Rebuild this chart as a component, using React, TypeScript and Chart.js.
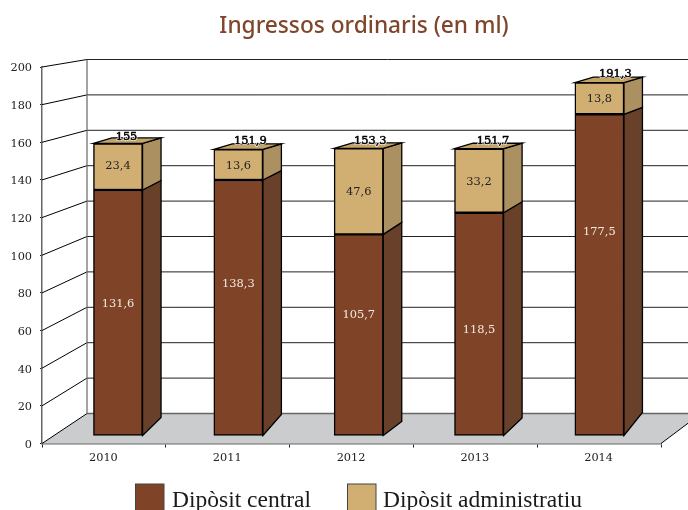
import React, { useEffect, useRef } from "react";
import { Chart, registerables } from "chart.js";

Chart.register(...registerables);

const years = ["2010", "2011", "2012", "2013", "2014"];
// Segment heights as they are drawn in the picture
const central = [130.7, 136, 107.1, 118.6, 170.9];
const administratiu = [24.7, 16.3, 45.7, 34, 16.8];
// Figures printed on the picture
const centralPrinted = [131.6, 138.3, 105.7, 118.5, 177.5];
const administratiuPrinted = [23.4, 13.6, 47.6, 33.2, 13.8];
const totalPrinted = [155, 151.9, 153.3, 151.7, 191.3];
const yTicks = [0, 20, 40, 60, 80, 100, 120, 140, 160, 180, 200];

const SERIF = '"DejaVu Serif"';
const fmt = (v: number) => String(v).replace(".", ",");

const plane = {
  barOffsetX: 118,
  barScaleX: 120.35 / 123.8,
  barShiftY: -7.5,
  backLeft: 87,
  backRight: 701,
  backFloor: 413.5,
  backScale: 1.77 / 1.8825,
  depth: 18.5,
  floorRise: [18, 21, 14, 17.5, 23],
  midRise: [9.5, 9.3, 12, 11, 7],
  topRise: 5.5,
  centralLabelShift: [-9, -24, -20, 6, -43],
  adminLabelShift: [-1, 1, 1, 1, 1],
  totalShiftX: [8.5, 12, 11.5, 14, 16],
  totalShiftY: [-6.5, -8.5, -7.5, -7.7, -9],
};

const colors = {
  darkFront: "#7F4428",
  darkSide: "#69412A",
  lightFront: "#D1AF72",
  lightSide: "#AB9062",
  lightTop: "#C5A468",
  floor: "#CBCCCE",
  axis: "#666666",
  title: "#80462B",
  text: "#222222",
};

function poly(ctx: CanvasRenderingContext2D, pts: number[][], fill: string | null, stroke: string | null, lw = 1) {
  ctx.beginPath();
  pts.forEach((p, i) => (i ? ctx.lineTo(p[0], p[1]) : ctx.moveTo(p[0], p[1])));
  if (fill) ctx.closePath();
  if (fill) {
    ctx.fillStyle = fill;
    ctx.fill();
  }
  if (stroke) {
    ctx.strokeStyle = stroke;
    ctx.lineWidth = lw;
    ctx.stroke();
  }
}

const chart3d = {
  id: "chart3d",
  beforeDatasetsDraw(chart: any) {
    const { ctx, chartArea: a, scales } = chart;
    const y = scales.y;
    const x = scales.x;
    const y0 = y.getPixelForValue(0);
    const backY = (py: number) => plane.backFloor - (y0 - py) * plane.backScale;

    ctx.save();
    // floor
    poly(
      ctx,
      [
        [a.left, y0],
        [plane.backLeft, plane.backFloor],
        [plane.backRight, plane.backFloor],
        [a.right, y0],
      ],
      colors.floor,
      null
    );
    // side wall and back wall lines
    yTicks.forEach((t) => {
      const py = y.getPixelForValue(t);
      poly(ctx, [[a.left, py], [plane.backLeft, backY(py)]], null, "#000000", 1);
      if (t > 0) poly(ctx, [[plane.backLeft, backY(py)], [688, backY(py)]], null, "#222222", 1);
    });
    poly(ctx, [[plane.backLeft, backY(y.getPixelForValue(200))], [plane.backLeft, plane.backFloor]], null, colors.axis, 1.2);
    poly(ctx, [[plane.backLeft, plane.backFloor], [plane.backRight, plane.backFloor]], null, colors.axis, 1.5);
    poly(ctx, [[a.right, y0], [plane.backRight, plane.backFloor]], null, "#000000", 1);

    // depth faces of the bars
    const m0 = chart.getDatasetMeta(0);
    const m1 = chart.getDatasetMeta(1);
    const tx = (px: number) => plane.barOffsetX + (px - x.getPixelForValue(0)) * plane.barScaleX;
    years.forEach((_, i) => {
      const e0 = m0.data[i];
      const e1 = m1.data[i];
      const half = e0.width / 2;
      const l = tx(e0.x - half);
      const r = tx(e0.x + half);
      const bottom = e0.base + plane.barShiftY;
      const mid = e0.y + plane.barShiftY;
      const top = e1.y + plane.barShiftY;
      const d = plane.depth;
      const rb = plane.floorRise[i];
      const rm = plane.midRise[i];
      const rt = plane.topRise;
      poly(ctx, [[r, bottom], [r + d, bottom - rb], [r + d, mid - rm], [r, mid]], colors.darkSide, "#000000", 1.3);
      poly(ctx, [[r, mid], [r + d, mid - rm], [r + d, top - rt], [r, top]], colors.lightSide, "#000000", 1.3);
      poly(ctx, [[l, top], [l + d, top - rt], [r + d, top - rt], [r, top]], colors.lightTop, "#000000", 1.3);
    });
    ctx.restore();

    // the bar fronts sit on a plane set back from the axis
    ctx.save();
    ctx.translate(plane.barOffsetX - x.getPixelForValue(0) * plane.barScaleX, plane.barShiftY);
    ctx.scale(plane.barScaleX, 1);
  },
  afterDatasetsDraw(chart: any) {
    const { ctx, scales } = chart;
    ctx.restore();
    const x = scales.x;
    const tx = (px: number) => plane.barOffsetX + (px - x.getPixelForValue(0)) * plane.barScaleX;
    const m0 = chart.getDatasetMeta(0);
    const m1 = chart.getDatasetMeta(1);
    ctx.save();
    ctx.textAlign = "center";
    ctx.textBaseline = "middle";
    ctx.font = `11.4px ${SERIF}`;
    years.forEach((_, i) => {
      const e0 = m0.data[i];
      const e1 = m1.data[i];
      const cx = tx(e0.x);
      const bottom = e0.base + plane.barShiftY;
      const mid = e0.y + plane.barShiftY;
      const top = e1.y + plane.barShiftY;
      ctx.fillStyle = "#F3E9DF";
      ctx.fillText(fmt(centralPrinted[i]), cx, (bottom + mid) / 2 + plane.centralLabelShift[i]);
      ctx.fillStyle = colors.text;
      ctx.fillText(fmt(administratiuPrinted[i]), cx, (mid + top) / 2 + plane.adminLabelShift[i]);
      const tX = cx + plane.totalShiftX[i];
      const tY = top + plane.totalShiftY[i];
      ctx.lineJoin = "round";
      ctx.strokeStyle = "rgba(255,255,255,0.9)";
      ctx.lineWidth = 2;
      ctx.strokeText(fmt(totalPrinted[i]), tX, tY);
      ctx.fillStyle = "#000000";
      ctx.strokeStyle = "#000000";
      ctx.lineWidth = 0.5;
      ctx.fillText(fmt(totalPrinted[i]), tX, tY);
      ctx.strokeText(fmt(totalPrinted[i]), tX, tY);
    });
    ctx.restore();
  },
  afterDraw(chart: any) {
    const { ctx, data } = chart;
    ctx.save();
    // title
    ctx.textAlign = "center";
    ctx.textBaseline = "alphabetic";
    ctx.fillStyle = colors.title;
    ctx.font = '500 22.7px "Noto Sans"';
    ctx.fillText("Ingressos ordinaris (en ml)", 364, 33);
    // legend
    ctx.textAlign = "left";
    ctx.font = '23.5px "Liberation Serif"';
    const items = [
      { box: 135.5, text: 172 },
      { box: 347.5, text: 383 },
    ];
    data.datasets.forEach((ds: any, i: number) => {
      ctx.fillStyle = ds.backgroundColor;
      ctx.strokeStyle = "#444444";
      ctx.lineWidth = 1;
      ctx.fillRect(items[i].box, 484, 28.5, 27);
      ctx.strokeRect(items[i].box, 484, 28.5, 27);
      ctx.fillStyle = "#1a1a1a";
      ctx.fillText(ds.label, items[i].text, 506.5);
    });
    ctx.restore();
  },
};

export default function App() {
  const ref = useRef<HTMLCanvasElement>(null);
  useEffect(() => {
    const chart = new Chart(ref.current as HTMLCanvasElement, {
      type: "bar",
      plugins: [chart3d],
      data: {
        labels: years,
        datasets: [
          {
            label: "Dipòsit central",
            data: central,
            backgroundColor: colors.darkFront,
            borderColor: "#000000",
            borderWidth: 1.5,
            borderSkipped: false,
            barThickness: 50.5,
            clip: false,
          },
          {
            label: "Dipòsit administratiu",
            data: administratiu,
            backgroundColor: colors.lightFront,
            borderColor: "#000000",
            borderWidth: 1.5,
            borderSkipped: false,
            barThickness: 50.5,
            clip: false,
          },
        ],
      },
      options: {
        animation: false,
        responsive: false,
        devicePixelRatio: 1,
        layout: { padding: { top: 67, right: 27, left: 0, bottom: 0 } },
        plugins: { legend: { display: false }, title: { display: false }, tooltip: { enabled: false } },
        scales: {
          x: {
            stacked: true,
            afterFit: (s: any) => {
              s.height = 66.5;
            },
            border: { color: colors.axis, width: 1.5 },
            grid: { offset: true, drawOnChartArea: false, drawTicks: true, tickLength: 4, color: "#222222" },
            ticks: { color: colors.text, font: { family: SERIF, size: 11.3 }, padding: 4, maxRotation: 0, labelOffset: -0.5 },
          },
          y: {
            stacked: true,
            min: 0,
            max: 200,
            afterFit: (s: any) => {
              s.width = 42;
            },
            border: { color: colors.axis, width: 1.5 },
            grid: { drawOnChartArea: false, drawTicks: true, tickLength: 2, color: "#222222" },
            ticks: { stepSize: 20, color: colors.text, font: { family: SERIF, size: 11.3 }, padding: 8, labelOffset: 1.5 },
          },
        },
      },
    } as any);
    return () => chart.destroy();
  }, []);
  return (
    <canvas
      ref={ref}
      width={688}
      height={510}
      style={{ position: "fixed", left: 0, top: 0, width: 688, height: 510, display: "block" }}
    />
  );
}
